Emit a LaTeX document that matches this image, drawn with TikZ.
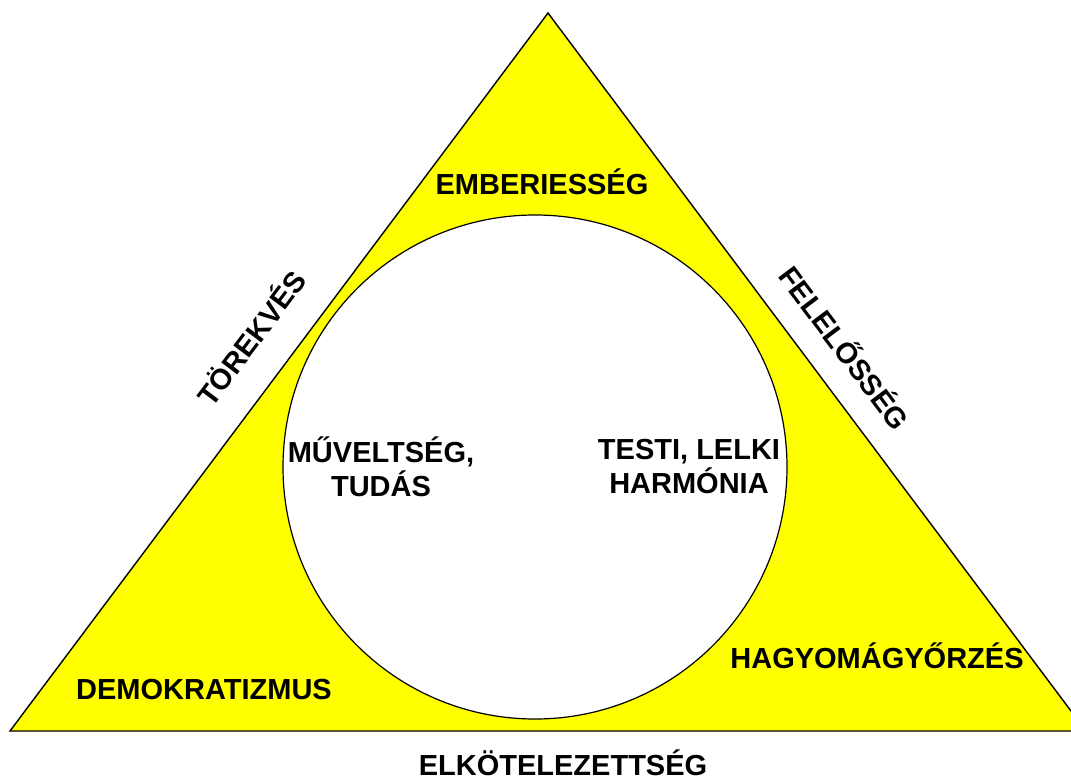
\documentclass[tikz,border=0pt]{standalone}
\usepackage{fontspec}
\setmainfont{Liberation Sans}
\usepackage{tikz}
\usetikzlibrary{positioning, calc}
\definecolor{triYellow}{HTML}{FFFF00}

\begin{document}
\begin{tikzpicture}[x=1pt, y=-1pt,
  outline/.style={draw=black, line width=1.4pt, line join=miter},
  word/.style={font=\fontsize{29}{34}\selectfont\bfseries, text=black, inner sep=0pt, align=center}
]
  \useasboundingbox (0,0) rectangle (1071,782);
  \begin{scope}
    \clip (0,0) rectangle (1071,782);
    % Triangle and circle
    \coordinate (apex) at (548,13);
    \coordinate (left) at (10,731);
    \coordinate (right) at (1086,731);
    \draw[outline, fill=triYellow] (apex) -- (left) -- (right) -- cycle;
    \draw[outline, fill=white, line width=1.2pt] (535,467) circle (252);
  \end{scope}

  % Labels
  \node[word] (embe) at (542,182) {EMBERIESSÉG};
  \node[word] (demo) at (204,690) {DEMOKRATIZMUS};
  \node[word] (hagy) at (877,656) {HAGYOMÁGYŐRZÉS};
  \node[word] (elko) at (563,763) {ELKÖTELEZETTSÉG};
  \node[word] (muve) at (381,467) {MŰVELTSÉG,\\TUDÁS};
  \node[word] (test) at (689,467) {TESTI, LELKI\\HARMÓNIA};
  \node[word, rotate=53] (tore) at (250,337) {TÖREKVÉS};
  \node[word, rotate=-53] (fele) at (846,347) {FELELŐSSÉG};
\end{tikzpicture}
\end{document}
